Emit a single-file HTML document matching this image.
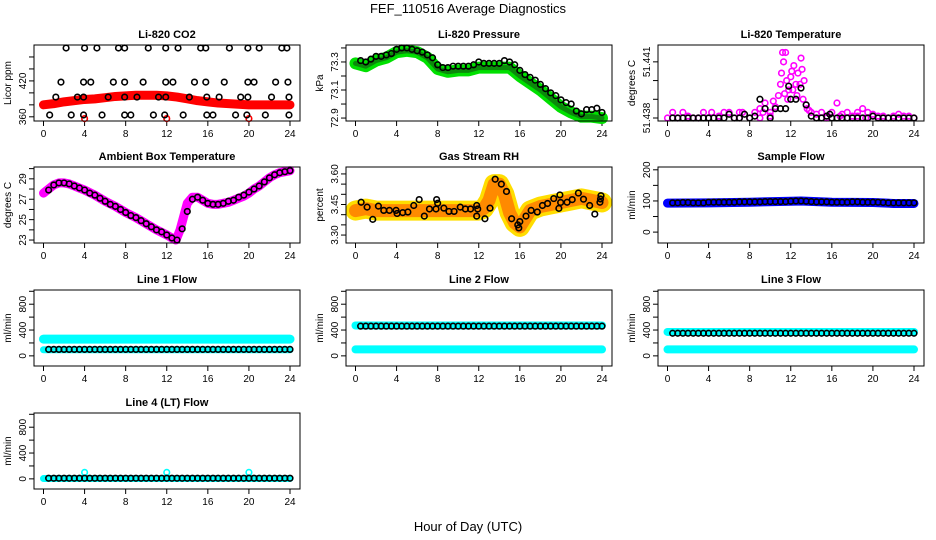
<!DOCTYPE html>
<html><head><meta charset="utf-8"><style>
body{margin:0;background:#fff;}
svg{display:block;font-family:"Liberation Sans",sans-serif;}
</style></head><body>
<svg id="c" width="936" height="540" viewBox="0 0 936 540">
<text x="468" y="13" text-anchor="middle" font-size="13">FEF_110516  Average Diagnostics</text>
<text x="468" y="531" text-anchor="middle" font-size="13">Hour of Day (UTC)</text>
</svg>
<script>
// ---- data ----
const xTicks=[0,4,8,12,16,20,24];
// CO2
const co2BandH=[0,1,2,3,4,5,6,7,8,9,10,11,12,13,14,15,16,17,18,19,20,21,22,23,24];
const co2BandV=[380,382,385,387,389,390,392,394,395,396,396,396,395,393,390,387,385,383,382,381,380,380,380,380,380];
const co2OutH=[4,12,20];
const co2OutV=[357,357,357];
const co2BlkH=[2.2,4.0,5.2,7.3,7.9,10.2,11.9,13.1,15.3,15.8,18.1,19.9,21.0,23.2,23.7,
1.7,3.9,4.6,6.8,7.9,9.7,11.9,12.6,14.7,15.8,17.6,19.9,20.5,22.6,23.8,
1.2,3.3,3.9,6.3,7.9,9.1,11.2,11.9,14.2,15.9,17.1,19.2,19.9,22.2,23.9,
0.6,2.7,3.9,5.7,7.9,8.5,10.7,11.8,13.6,15.9,16.5,18.7,19.8,21.6,23.9];
const co2BlkV=[475,475,475,475,475,475,475,475,475,475,475,475,475,475,475,
418,418,418,418,418,418,418,418,418,418,418,418,418,418,418,
393,393,393,393,393,393,393,393,393,393,393,393,393,393,393,
363,363,363,363,363,363,363,363,363,363,363,363,363,363,363];
// Pressure
const prBandH=[0,1,2,3,4,5,6,7,8,9,10,11,12,13,14,15,16,17,18,19,20,21,22,23,24];
const prBandV=[73.29,73.27,73.31,73.33,73.37,73.38,73.37,73.33,73.25,73.23,73.24,73.24,73.26,73.26,73.26,73.26,73.20,73.15,73.10,73.04,72.98,72.94,72.91,72.91,72.90];
const prBlkH=[0.5,1,1.5,2,2.5,3,3.5,4,4.5,5,5.5,6,6.5,7,7.5,8,8.5,9,9.5,10,10.5,11,11.5,12,12.5,13,13.5,14,14.5,15,15.5,16,16.5,17,17.5,18,18.5,19,19.5,20,20.5,21,21.5,22,22.5,23,23.5,24];
const prBlkV=[73.31,73.30,73.32,73.34,73.34,73.35,73.36,73.39,73.40,73.40,73.39,73.38,73.37,73.35,73.33,73.28,73.26,73.26,73.27,73.27,73.27,73.27,73.28,73.30,73.29,73.29,73.29,73.29,73.31,73.30,73.28,73.24,73.21,73.19,73.17,73.14,73.11,73.08,73.06,73.03,73.01,73.00,72.95,72.93,72.96,72.96,72.97,72.94];
// Li-820 temperature
const ltMagH=[0,0.5,1,1.5,2,2.5,3,3.5,4,4.3,5,5.5,6,6.5,7,7.3,8,8.5,9,9.3,9.5,10,10.3,10.5,10.8,11,11.1,11.2,11.3,11.5,11.6,11.8,12,12.1,12.3,12.5,12.7,12.9,13,13.1,13.3,13.5,13.6,13.8,14,14.5,15,15.5,16,16.5,17,17.5,18,18.5,19,19.5,20,20.5,21,21.5,22,22.5,23,23.5,24,
1,2,3,5,7,9,10,11.4,11.7,12.2,12.6,13.2,14.5,15.5,16.8,17.5,18.5,19.3,20,21,22.5];
const ltMagV=[51.4380,51.4383,51.4380,51.4383,51.4380,51.4380,51.4380,51.4383,51.4380,51.4383,51.4380,51.4383,51.4383,51.4380,51.4383,51.4383,51.4380,51.4383,51.4385,51.4383,51.4388,51.4383,51.4389,51.4386,51.4392,51.4398,51.4404,51.4415,51.4410,51.4415,51.4400,51.4395,51.4402,51.4405,51.4408,51.4398,51.4404,51.4398,51.4412,51.4406,51.4400,51.4387,51.4385,51.4384,51.4383,51.4382,51.4383,51.4381,51.4383,51.4388,51.4382,51.4383,51.4381,51.4383,51.4385,51.4383,51.4382,51.4381,51.4381,51.4380,51.4381,51.4382,51.4381,51.4381,51.4380,
51.4380,51.4381,51.4380,51.4381,51.4380,51.4380,51.4381,51.4393,51.4390,51.4395,51.4392,51.4390,51.4380,51.4380,51.4381,51.4380,51.4381,51.4380,51.4381,51.4380,51.4380];
const ltBlkH=[0.5,1,1.5,2,2.5,3,3.5,4,4.5,5,5.5,6,6.5,7,7.5,8,8.5,9,9.5,10,10.5,11,11.5,11.8,12,12.5,13,13.5,14,14.5,15,15.5,15.8,16,16.5,17,17.5,18,18.5,19,19.5,20,20.5,21,21.5,22,22.5,23,23.5,24];
const ltBlkV=[51.4380,51.4380,51.4380,51.4380,51.4380,51.4380,51.4380,51.4380,51.4380,51.4380,51.4380,51.4382,51.4380,51.4380,51.4382,51.4380,51.4381,51.4390,51.4385,51.4380,51.4385,51.4385,51.4385,51.4397,51.4390,51.4390,51.4396,51.4387,51.4381,51.4380,51.4380,51.4381,51.4382,51.4380,51.4380,51.4380,51.4380,51.4380,51.4380,51.4380,51.4380,51.4381,51.4380,51.4380,51.4380,51.4380,51.4380,51.4380,51.4380,51.4380];
// Ambient box temperature
const abLineH=[0,0.5,1,1.5,2,2.5,3,3.5,4,5,6,7,8,9,10,11,12,12.5,12.9,13.3,13.7,14,14.5,15,15.5,16,16.5,17,17.5,18,18.5,19,19.5,20,20.5,21,21.5,22,22.5,23,23.5,24];
const abLineV=[27.6,28.0,28.4,28.6,28.6,28.5,28.3,28.1,27.9,27.4,26.8,26.3,25.7,25.2,24.6,24.0,23.5,23.2,23.0,24.0,25.5,26.6,27.2,27.2,26.9,26.6,26.5,26.5,26.6,26.7,26.9,27.1,27.3,27.6,28.0,28.3,28.7,29.1,29.4,29.6,29.7,29.8];
const abBlkH=[0.5,1,1.5,2,2.5,3,3.5,4,4.5,5,5.5,6,6.5,7,7.5,8,8.5,9,9.5,10,10.5,11,11.5,12,12.5,13,13.5,14,14.5,15,15.5,16,16.5,17,17.5,18,18.5,19,19.5,20,20.5,21,21.5,22,22.5,23,23.5,24];
const abBlkV=[27.9,28.4,28.6,28.6,28.5,28.3,28.1,27.9,27.6,27.4,27.1,26.8,26.5,26.3,26.0,25.7,25.4,25.2,24.9,24.6,24.3,24.0,23.8,23.5,23.2,23.0,24.1,25.8,27.0,27.2,26.9,26.6,26.5,26.5,26.6,26.8,26.9,27.2,27.4,27.7,28.0,28.3,28.7,29.1,29.4,29.6,29.7,29.8];
// Gas stream RH
const rhBandH=[0,1,2,3,4,5,6,7,8,9,10,11,12,12.5,13,13.5,14,14.5,15,15.5,16,16.5,17,18,19,20,21,22,23,24];
const rhBandV=[3.42,3.43,3.42,3.42,3.42,3.42,3.42,3.42,3.42,3.42,3.42,3.42,3.42,3.43,3.47,3.55,3.55,3.50,3.41,3.36,3.34,3.38,3.42,3.44,3.45,3.46,3.47,3.48,3.47,3.46];
const rhBlkH=[0.55,1.13,1.68,2.23,2.75,3.3,3.95,4.05,4.6,5.1,5.67,6.2,6.7,7.2,7.84,7.9,8.0,8.6,9.1,9.6,10.2,10.7,11.2,11.8,11.8,11.9,12.6,13.1,13.6,14.2,14.7,15.2,15.8,15.9,16.0,16.6,17.1,17.7,18.2,18.7,19.3,19.8,19.9,19.97,20.6,21.1,21.7,22.2,22.8,23.3,23.8,23.9,23.85];
const rhBlkV=[3.461,3.437,3.377,3.442,3.421,3.421,3.421,3.406,3.410,3.413,3.445,3.474,3.393,3.428,3.428,3.474,3.456,3.432,3.416,3.416,3.437,3.428,3.428,3.445,3.393,3.428,3.380,3.432,3.574,3.550,3.514,3.380,3.350,3.335,3.366,3.393,3.421,3.413,3.445,3.455,3.479,3.431,3.497,3.460,3.461,3.474,3.506,3.476,3.445,3.403,3.461,3.493,3.477];
// Sample flow
const sfBandH=[0,4,8,12,13,16,20,22,24];
const sfBandV=[93,94,96,99,100,96,95,92,92];
const sfBlkH=[0.5,1,1.5,2,2.5,3,3.5,4,4.5,5,5.5,6,6.5,7,7.5,8,8.5,9,9.5,10,10.5,11,11.5,12,12.5,13,13.5,14,14.5,15,15.5,16,16.5,17,17.5,18,18.5,19,19.5,20,20.5,21,21.5,22,22.5,23,23.5,24];
const sfBlkV=[94,94,95,95,94,94,94,96,96,96,96,96,96,97,97,97,97,97,98,98,98,98,98,99,100,100,99,98,97,97,97,96,96,96,96,97,97,96,96,96,96,95,94,94,94,94,94,94];
// Line flows (band values at hours 0 and 24, black points every 0.5h)
const flowH=[0,24];
const l1CyanHi=[260,260];
const l1CyanLo=[95,95];
const l1Blk=[100,100];
const l2CyanHi=[470,470];
const l2CyanLo=[100,100];
const l2Blk=[460,460];
const l3CyanHi=[370,370];
const l3CyanLo=[100,100];
const l3Blk=[350,350];
const l4Cyan=[5,5];
const l4Blk=[10,10];
const l4SpikeH=[4,12,20];
const l4SpikeV=[100,100,100];
const blkHours=[0.5,1,1.5,2,2.5,3,3.5,4,4.5,5,5.5,6,6.5,7,7.5,8,8.5,9,9.5,10,10.5,11,11.5,12,12.5,13,13.5,14,14.5,15,15.5,16,16.5,17,17.5,18,18.5,19,19.5,20,20.5,21,21.5,22,22.5,23,23.5,24];

// ---- drawing ----
const svg=document.getElementById('c');
const NS='http://www.w3.org/2000/svg';
function mk(tag,attrs,parent){const e=document.createElementNS(NS,tag);for(const k in attrs)e.setAttribute(k,attrs[k]);(parent||svg).appendChild(e);return e;}
const colL=[34,346,658], rowT=[45,167,290,413], W=266, H=76;
function panel(name,col,row,title,ylab,ymin,ymax,ticks,labels){
  const L=colL[col],T=rowT[row];
  const g=mk('g',{});
  
  
  const P={g,L,T,
    x:h=>L+9.5+h*(246.5/24),
    y:v=>T+H-(v-ymin)/(ymax-ymin)*H};
  const t=mk('text',{x:L+W/2,y:T-7,'text-anchor':'middle','font-size':11,'font-weight':'bold'},g);t.textContent=title;
  
  
  const yl=mk('text',{transform:`translate(${L-23},${T+H/2}) rotate(-90)`,'text-anchor':'middle','font-size':10},g);yl.textContent=ylab;
  
  
  const ax=mk('g',{stroke:'#000','stroke-width':1,fill:'none'},g);
  
  
  mk('line',{x1:P.x(0),x2:P.x(24),y1:T+H,y2:T+H},ax);
  xTicks.forEach(h=>{mk('line',{x1:P.x(h),x2:P.x(h),y1:T+H,y2:T+H+5},ax);
    const tx=mk('text',{x:P.x(h),y:T+H+16,'text-anchor':'middle','font-size':10,stroke:'none',fill:'#000'},g);tx.textContent=h;
    
    });
  mk('line',{x1:L,x2:L,y1:P.y(ticks[0]),y2:P.y(ticks[ticks.length-1])},ax);
  ticks.forEach(v=>mk('line',{x1:L-5,x2:L,y1:P.y(v),y2:P.y(v)},ax));
  labels.forEach(v=>{const tx=mk('text',{transform:`translate(${L-8},${P.y(v)}) rotate(-90)`,'text-anchor':'middle','font-size':10},g);tx.textContent=v;
    
    });
  P.plot=mk('g',{},g);
  P.finish=()=>{const b=mk('rect',{x:L,y:T,width:W,height:H,fill:'none',stroke:'#000','stroke-width':1},g);
    
    };
  return P;
}
function band(P,hs,vs,color,w,name){
  const pl=mk('polyline',{points:hs.map((h,i)=>P.x(h)+','+P.y(vs[i])).join(' '),fill:'none',stroke:color,'stroke-width':w,'stroke-linejoin':'round','stroke-linecap':'round'},P.plot);
  
  
}
function pts(P,hs,vs,color,name,sw){
  const g=mk('g',{fill:'none',stroke:color,'stroke-width':sw||1.6},P.plot);
  
  
  hs.forEach((h,i)=>mk('circle',{cx:P.x(h),cy:P.y(vs[i]),r:2.8},g));
}
function constPts(P,vals,color,name){pts(P,blkHours,blkHours.map(h=>vals[0]+(vals[1]-vals[0])*h/24),color,name);}

let P;
P=panel('co2',0,0,'Li-820 CO2','Licor ppm',353,480,[360,380,400,420,440,460],[360,420]);
band(P,co2BandH,co2BandV,'#ff0000',9,'co2-red-series');
pts(P,co2OutH,co2OutV,'#ff0000','co2-red-outliers');
pts(P,co2BlkH,co2BlkV,'#000','co2-black-series');P.finish();

P=panel('pressure',1,0,'Li-820 Pressure','kPa',72.879,73.421,[72.9,73.0,73.1,73.2,73.3,73.4],[72.9,73.1,73.3]);
band(P,prBandH,prBandV,'#00e000',12,'pressure-green-series');
band(P,prBandH,prBandV,'#0a8a0a',5,'pressure-green-core');
pts(P,prBlkH,prBlkV,'#000','pressure-black-series');P.finish();

P=panel('li-temp',2,0,'Li-820 Temperature','degrees C',51.43784,51.4419,[51.438,51.439,51.440,51.441],[51.438,51.441]);
pts(P,ltMagH,ltMagV,'#ff00ff','li-temp-magenta-series');
pts(P,ltBlkH,ltBlkV,'#000','li-temp-black-series');P.finish();

P=panel('ambient',0,1,'Ambient Box Temperature','degrees C',22.71,30.16,[23,24,25,26,27,28,29,30],[23,25,27,29]);
band(P,abLineH,abLineV,'#ff00ff',9,'ambient-magenta-series');
pts(P,abBlkH,abBlkV,'#000','ambient-black-series');P.finish();

P=panel('gas-rh',1,1,'Gas Stream RH','percent',3.261,3.634,[3.30,3.35,3.40,3.45,3.50,3.55,3.60],['3.30','3.45','3.60']);
band(P,rhBandH,rhBandV,'#ffdd00',20,'gas-rh-yellow-series');
band(P,rhBandH,rhBandV,'#ff8a00',13,'gas-rh-orange-series');
pts(P,rhBlkH,rhBlkV,'#000','gas-rh-black-series');P.finish();

P=panel('sample-flow',2,1,'Sample Flow','ml/min',-35,209,[0,50,100,150,200],[0,100,200]);
band(P,sfBandH,sfBandV,'#0000ff',9,'sample-flow-blue-series');
pts(P,sfBlkH,sfBlkV,'#000','sample-flow-black-series');P.finish();

const fT=[0,200,400,600,800,1000],fL=[0,400,800];
P=panel('line1-flow',0,2,'Line 1 Flow','ml/min',-157,1020,fT,fL);
band(P,flowH,l1CyanHi,'#00ffff',9,'line1-cyan-high');
band(P,flowH,l1CyanLo,'#00ffff',7,'line1-cyan-low');
constPts(P,l1Blk,'#000','line1-black-series');P.finish();

P=panel('line2-flow',1,2,'Line 2 Flow','ml/min',-157,1020,fT,fL);
band(P,flowH,l2CyanHi,'#00ffff',8,'line2-cyan-high');
band(P,flowH,l2CyanLo,'#00ffff',8,'line2-cyan-low');
constPts(P,l2Blk,'#000','line2-black-series');P.finish();

P=panel('line3-flow',2,2,'Line 3 Flow','ml/min',-157,1020,fT,fL);
band(P,flowH,l3CyanHi,'#00ffff',8,'line3-cyan-high');
band(P,flowH,l3CyanLo,'#00ffff',8,'line3-cyan-low');
constPts(P,l3Blk,'#000','line3-black-series');P.finish();

P=panel('line4-flow',0,3,'Line 4 (LT) Flow','ml/min',-157,1020,fT,fL);
band(P,flowH,l4Cyan,'#00ffff',7,'line4-cyan-series');
pts(P,l4SpikeH,l4SpikeV,'#00ffff','line4-cyan-spikes');
constPts(P,l4Blk,'#000','line4-black-series');P.finish();
</script>
</body></html>
